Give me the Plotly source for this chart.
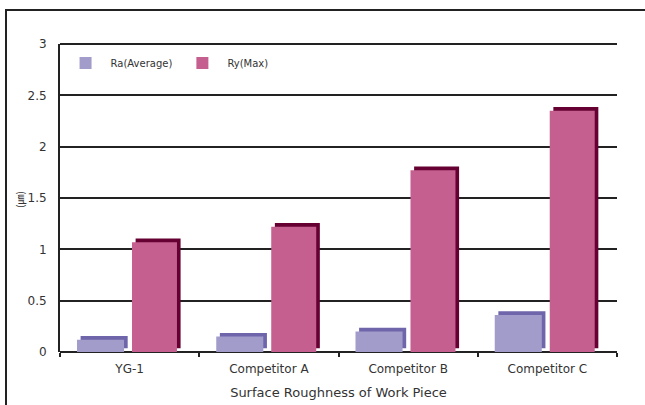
import plotly.graph_objects as go

categories = ["YG-1", "Competitor A", "Competitor B", "Competitor C"]
ra_values = [0.12, 0.15, 0.20, 0.36]
ry_values = [1.07, 1.22, 1.77, 2.35]
y_ticks = [0, 0.5, 1, 1.5, 2, 2.5, 3]
y_tick_labels = ["0", "0.5", "1", "1.5", "2", "2.5", "3"]

FONT = "DejaVu Sans, sans-serif"
RA_FRONT = "#A29CCB"
RA_DEPTH = "#6E65AA"
RY_FRONT = "#C45F8F"
RY_DEPTH = "#660033"

# 3D depth effect (style): shift of the back face
DEPTH_X = 0.026  # in category units
DEPTH_Y = 0.036  # in value units

fig = go.Figure()

# back (depth) faces
fig.add_trace(go.Bar(
    x=categories, y=ra_values, base=[DEPTH_Y] * len(ra_values),
    offset=-0.378 + DEPTH_X, width=0.338,
    marker=dict(color=RA_DEPTH, line=dict(width=0)),
    showlegend=False, hoverinfo="skip"))
fig.add_trace(go.Bar(
    x=categories, y=ry_values, base=[DEPTH_Y] * len(ry_values),
    offset=0.017 + DEPTH_X, width=0.323,
    marker=dict(color=RY_DEPTH, line=dict(width=0)),
    showlegend=False, hoverinfo="skip"))

# front faces
fig.add_trace(go.Bar(
    x=categories, y=ra_values, name="Ra(Average)",
    offset=-0.378, width=0.338,
    marker=dict(color=RA_FRONT, line=dict(color=RA_DEPTH, width=0))))
fig.add_trace(go.Bar(
    x=categories, y=ry_values, name="Ry(Max)",
    offset=0.017, width=0.323,
    marker=dict(color=RY_FRONT, line=dict(color=RY_DEPTH, width=0))))

L, R, T, B = 60, 28, 44, 53
W, H = 645, 405
pw, ph = W - L - R, H - T - B

def px_x(p):
    return (p - L) / pw

def px_y(p):
    return (H - B - p) / ph

fig.update_layout(
    width=W, height=H,
    margin=dict(l=L, r=R, t=T, b=B, pad=0, autoexpand=False),
    paper_bgcolor="white", plot_bgcolor="white",
    barmode="overlay",
    font=dict(family=FONT, size=12, color="#333333"),
    legend=dict(
        orientation="h", x=0.001, y=0.985, xanchor="left", yanchor="top",
        bgcolor="rgba(0,0,0,0)", font=dict(size=10, color="#333333"),
        itemwidth=40, traceorder="normal"),
    xaxis=dict(
        type="category", range=[-0.5, 3.5], automargin=False,
        showgrid=False, showline=False, zeroline=False,
        ticks="outside", tickson="boundaries", ticklen=4, tickwidth=2,
        tickcolor="#222222", ticklabelstandoff=8,
        tickfont=dict(size=12, color="#333333"),
        title=dict(text="Surface Roughness of Work Piece",
                   font=dict(size=13, color="#333333"), standoff=12)),
    yaxis=dict(
        range=[0, 3], tickvals=y_ticks, ticktext=y_tick_labels,
        automargin=False,
        showgrid=True, gridcolor="#222222", gridwidth=2,
        showline=True, linecolor="#222222", linewidth=2,
        zeroline=True, zerolinecolor="#222222", zerolinewidth=2,
        ticks="", ticklabelstandoff=9,
        tickfont=dict(size=12, color="#333333")),
    annotations=[
        dict(text="(㎛)", xref="paper", yref="paper",
             x=px_x(19), y=px_y(200), xanchor="center", yanchor="middle",
             textangle=-90, showarrow=False,
             font=dict(family="Noto Sans CJK KR", size=10, color="#333333")),
    ],
    shapes=[
        dict(type="path", xref="paper", yref="paper",
             path=f"M {px_x(645)} {px_y(10)} L {px_x(6)} {px_y(10)} L {px_x(6)} {px_y(405)}",
             line=dict(color="#222222", width=2), layer="below"),
        dict(type="line", xref="paper", yref="paper",
             x0=0, x1=1, y0=1, y1=1,
             line=dict(color="#222222", width=2)),
    ],
)

fig.write_html("out.html")
